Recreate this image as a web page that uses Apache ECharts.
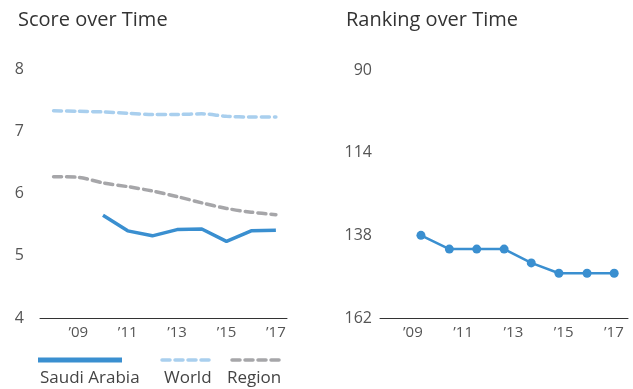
<!DOCTYPE html>
<html>
<head>
<meta charset="utf-8">
<title>Score and Ranking over Time</title>
<script src="https://cdn.jsdelivr.net/npm/echarts@6/dist/echarts.min.js"></script>
<style>
  html, body { margin: 0; padding: 0; background: #fff; }
  #main { width: 633px; height: 389px; }
</style>
</head>
<body>
<div id="main"></div>
<script>
// score chart data
var scoreYears = [2008, 2009, 2010, 2011, 2012, 2013, 2014, 2015, 2016, 2017];
var saudiScore = [null, null, 5.65, 5.40, 5.32, 5.42, 5.43, 5.23, 5.40, 5.41];
var worldScore = [7.33, 7.32, 7.31, 7.29, 7.27, 7.27, 7.28, 7.24, 7.23, 7.23];
var regionScore = [6.27, 6.26, 6.17, 6.11, 6.04, 5.95, 5.85, 5.76, 5.70, 5.66];

// ranking chart data
var rankYears = [2009.32, 2010.45, 2011.54, 2012.63, 2013.71, 2014.81, 2015.93, 2017.01];
var saudiRank = [138, 142, 142, 142, 146, 149, 149, 149];

var yearTicks = [2009, 2011, 2013, 2015, 2017];
var legendNames = ['Saudi Arabia', 'World', 'Region'];
var titles = ['Score over Time', 'Ranking over Time'];

var cBlue = '#3a8fd0', cLight = '#a9cfee', cGrey = '#a6a6a9';
var FONT = '"Open Sans"';

function pairs(xs, ys) {
  var out = [];
  for (var i = 0; i < xs.length; i++) {
    if (ys[i] != null) out.push([xs[i], ys[i]]);
  }
  return out;
}
function yearLabel(v) { return '\u2019' + String(v).slice(2); }

function xAxisCfg(idx, mn, mx) {
  return {
    type: 'value', gridIndex: idx, min: mn, max: mx,
    axisLine: { show: true, lineStyle: { color: '#333', width: 1 } },
    axisTick: { show: false },
    splitLine: { show: false },
    axisLabel: {
      customValues: yearTicks, formatter: yearLabel,
      color: '#555', fontFamily: FONT, fontSize: 15, margin: 7
    }
  };
}

var chart = echarts.init(document.getElementById('main'));
var option = {
  animation: false,
  textStyle: { fontFamily: FONT },
  title: [
    { text: titles[0], left: 13, top: 5, textStyle: { fontFamily: FONT, fontSize: 20, fontWeight: 'normal', color: '#333' } },
    { text: titles[1], left: 341, top: 5, textStyle: { fontFamily: FONT, fontSize: 20, fontWeight: 'normal', color: '#333' } }
  ],
  grid: [
    { left: 40, right: 346, top: 69, bottom: 71 },
    { left: 380, right: 5, top: 70, bottom: 71 }
  ],
  xAxis: [
    xAxisCfg(0, 2007.45, 2017.45),
    xAxisCfg(1, 2007.69, 2017.56)
  ],
  yAxis: [
    {
      type: 'value', gridIndex: 0, min: 4, max: 8, interval: 1,
      axisLine: { show: false }, axisTick: { show: false }, splitLine: { show: false },
      axisLabel: { color: '#555', fontFamily: FONT, fontSize: 16, margin: 16 }
    },
    {
      type: 'value', gridIndex: 1, min: 90, max: 162, interval: 24, inverse: true,
      axisLine: { show: false }, axisTick: { show: false }, splitLine: { show: false },
      axisLabel: { color: '#555', fontFamily: FONT, fontSize: 16, margin: 8 }
    }
  ],
  series: [
    {
      name: legendNames[1], type: 'line', xAxisIndex: 0, yAxisIndex: 0,
      data: pairs(scoreYears, worldScore), symbol: 'none', smooth: 0.3,
      lineStyle: { color: cLight, width: 3.5, type: [8, 5], cap: 'round' }
    },
    {
      name: legendNames[2], type: 'line', xAxisIndex: 0, yAxisIndex: 0,
      data: pairs(scoreYears, regionScore), symbol: 'none', smooth: 0.3,
      lineStyle: { color: cGrey, width: 3.5, type: [8, 5], cap: 'round' }
    },
    {
      name: legendNames[0], type: 'line', xAxisIndex: 0, yAxisIndex: 0,
      data: pairs(scoreYears, saudiScore), symbol: 'none',
      lineStyle: { color: cBlue, width: 3.5 }
    },
    {
      name: legendNames[0], type: 'line', xAxisIndex: 1, yAxisIndex: 1,
      data: pairs(rankYears, saudiRank), symbol: 'circle', symbolSize: 9,
      itemStyle: { color: cBlue },
      lineStyle: { color: cBlue, width: 2.5 }
    }
  ],
  // legend drawn by hand: swatch above the name
  graphic: [
    { type: 'line', shape: { x1: 38, y1: 360, x2: 122, y2: 360 }, style: { stroke: cBlue, lineWidth: 5 } },
    { type: 'line', shape: { x1: 162, y1: 360, x2: 210, y2: 360 }, style: { stroke: cLight, lineWidth: 3.5, lineDash: [8, 5], lineCap: 'round' } },
    { type: 'line', shape: { x1: 232, y1: 360, x2: 280, y2: 360 }, style: { stroke: cGrey, lineWidth: 3.5, lineDash: [8, 5], lineCap: 'round' } },
    { type: 'text', left: 40, top: 370, style: { text: legendNames[0], fill: '#444', font: '17px ' + FONT } },
    { type: 'text', left: 164, top: 370, style: { text: legendNames[1], fill: '#444', font: '17px ' + FONT } },
    { type: 'text', left: 227, top: 370, style: { text: legendNames[2], fill: '#444', font: '17px ' + FONT } }
  ]
};
chart.setOption(option);
</script>
</body>
</html>
